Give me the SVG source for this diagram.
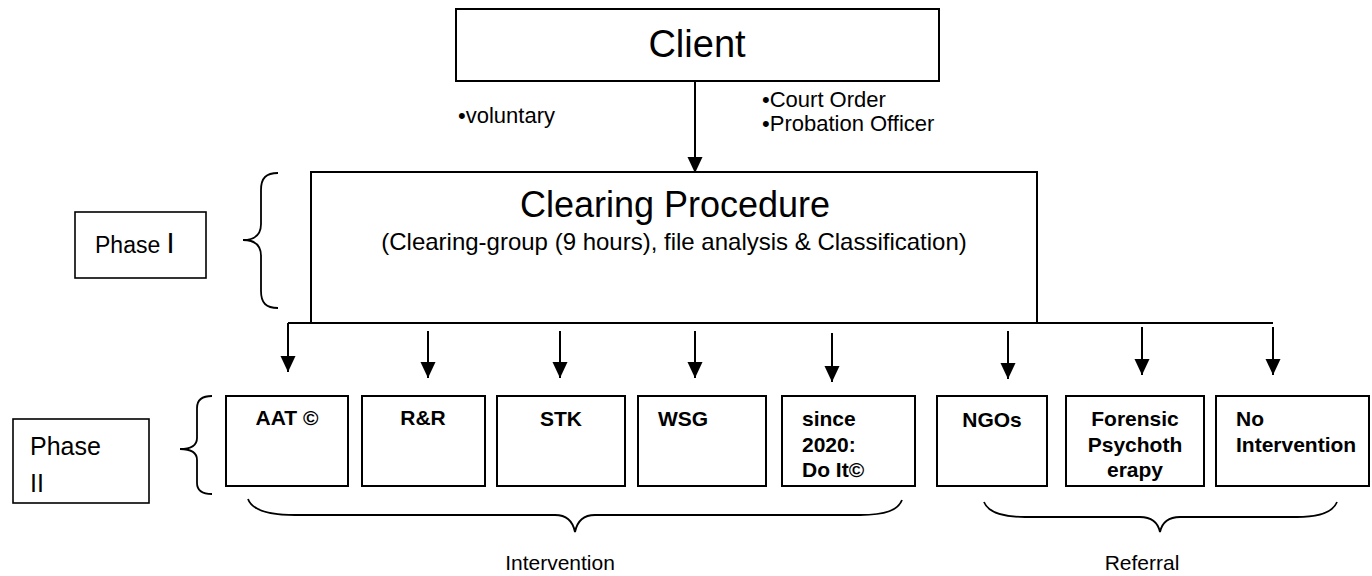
<svg xmlns="http://www.w3.org/2000/svg" width="1372" height="576" viewBox="0 0 1372 576">
  <defs>
    <marker id="arrow" markerWidth="15" markerHeight="16" refX="16" refY="7.5" orient="auto" markerUnits="userSpaceOnUse">
      <path d="M0,0 L16,7.5 L0,15 Z" fill="#000"/>
    </marker>
    <style>
      .box { fill: #fff; stroke: #000; stroke-width: 2; }
      .thin { fill: #fff; stroke: #000; stroke-width: 1.6; }
      .t { font-family: "Liberation Sans", Arial, sans-serif; fill: #000; }
      .b { font-family: "Liberation Sans", Arial, sans-serif; font-weight: bold; font-size: 21px; fill: #000; }
      .link { stroke: #000; stroke-width: 2; fill: none; }
      .arr { stroke: #000; stroke-width: 2; fill: none; marker-end: url(#arrow); }
      .brace { stroke: #000; stroke-width: 1.8; fill: none; }
    </style>
  </defs>
  <rect width="1372" height="576" fill="#fff"/>

  <!-- top node -->
  <g id="client">
    <rect class="box" x="456" y="9" width="483" height="72"/>
    <text class="t" x="697" y="57" font-size="38" text-anchor="middle">Client</text>
  </g>

  <!-- referral sources -->
  <g id="sources">
    <text class="t" x="458" y="123" font-size="22">•voluntary</text>
    <text class="t" x="762" y="107" font-size="22">•Court Order</text>
    <text class="t" x="762" y="131" font-size="22">•Probation Officer</text>
  </g>

  <!-- phase I -->
  <g id="clearing">
    <rect class="box" x="311" y="172" width="726" height="151"/>
    <text class="t" x="675" y="217" font-size="36" text-anchor="middle">Clearing Procedure</text>
    <text class="t" x="674" y="250" font-size="24" text-anchor="middle">(Clearing-group (9 hours), file analysis &amp; Classification)</text>
  </g>
  <g id="phase1">
    <rect class="thin" x="75" y="212" width="131" height="66"/>
    <text class="t" x="95" y="253" font-size="23">Phase <tspan font-size="29">I</tspan></text>
    <path class="brace" d="M278,173 C266,173 261,178 261,190 L261,224 C261,234 255,240 243,240 C255,240 261,246 261,256 L261,291 C261,303 266,308 278,308"/>
  </g>

  <!-- phase II -->
  <g id="phase2">
    <rect class="thin" x="13" y="419" width="136" height="84"/>
    <text class="t" x="30" y="455" font-size="25">Phase</text>
    <text class="t" x="30" y="492" font-size="25">II</text>
    <path class="brace" d="M212,396 C202,396 197,400 197,408 L197,438 C197,445 192,449 180,449 C192,449 197,453 197,460 L197,483 C197,490 202,494 212,494"/>
  </g>

  <g id="aat">
    <rect class="box" x="226" y="396" width="122" height="90"/>
    <text class="b" x="287" y="425" text-anchor="middle">AAT ©</text>
  </g>
  <g id="rr">
    <rect class="box" x="362" y="396" width="123" height="90"/>
    <text class="b" x="423" y="425" text-anchor="middle">R&amp;R</text>
  </g>
  <g id="stk">
    <rect class="box" x="497" y="396" width="128" height="90"/>
    <text class="b" x="561" y="426" text-anchor="middle">STK</text>
  </g>
  <g id="wsg">
    <rect class="box" x="638" y="396" width="128" height="90"/>
    <text class="b" x="658" y="426">WSG</text>
  </g>
  <g id="doit">
    <rect class="box" x="782" y="396" width="133" height="90"/>
    <text class="b" x="802" y="426">since</text>
    <text class="b" x="802" y="452">2020:</text>
    <text class="b" x="802" y="477">Do It©</text>
  </g>
  <g id="ngos">
    <rect class="box" x="937" y="396" width="110" height="90"/>
    <text class="b" x="992" y="427" text-anchor="middle">NGOs</text>
  </g>
  <g id="forensic">
    <rect class="box" x="1066" y="396" width="138" height="90"/>
    <text class="b" x="1135" y="426" text-anchor="middle">Forensic</text>
    <text class="b" x="1135" y="452" text-anchor="middle">Psychoth</text>
    <text class="b" x="1135" y="477" text-anchor="middle">erapy</text>
  </g>
  <g id="nointervention">
    <rect class="box" x="1216" y="396" width="153" height="90"/>
    <text class="b" x="1236" y="426">No</text>
    <text class="b" x="1236" y="452">Intervention</text>
  </g>

  <!-- group braces and labels -->
  <g id="intervention">
    <path class="brace" d="M248,499 C252,510 268,515 295,515 L555,515 C568,515 573,522 575,532 C577,522 582,515 595,515 L860,515 C886,515 898,510 902,500"/>
    <text class="t" x="560" y="570" font-size="21" text-anchor="middle">Intervention</text>
  </g>
  <g id="referral">
    <path class="brace" d="M984,502 C988,512 1002,517 1025,517 L1140,517 C1153,517 1158,523 1160,532 C1162,523 1167,517 1180,517 L1297,517 C1320,517 1333,512 1337,502"/>
    <text class="t" x="1142" y="570" font-size="21" text-anchor="middle">Referral</text>
  </g>

  <!-- connectors -->
  <g id="connectors">
    <line class="arr" x1="695" y1="81" x2="695" y2="173"/>
    <polyline class="link" points="311,323 288,323"/>
    <line class="link" x1="1037" y1="323" x2="1273" y2="323" stroke-width="1.6"/>
    <line class="arr" x1="288" y1="323" x2="288" y2="372"/>
    <line class="arr" x1="428" y1="331" x2="428" y2="378"/>
    <line class="arr" x1="560" y1="331" x2="560" y2="378"/>
    <line class="arr" x1="695" y1="331" x2="695" y2="378"/>
    <line class="arr" x1="832" y1="333" x2="832" y2="382"/>
    <line class="arr" x1="1008" y1="331" x2="1008" y2="379"/>
    <line class="arr" x1="1142" y1="327" x2="1142" y2="375"/>
    <line class="arr" x1="1273" y1="327" x2="1273" y2="375"/>
  </g>
</svg>
